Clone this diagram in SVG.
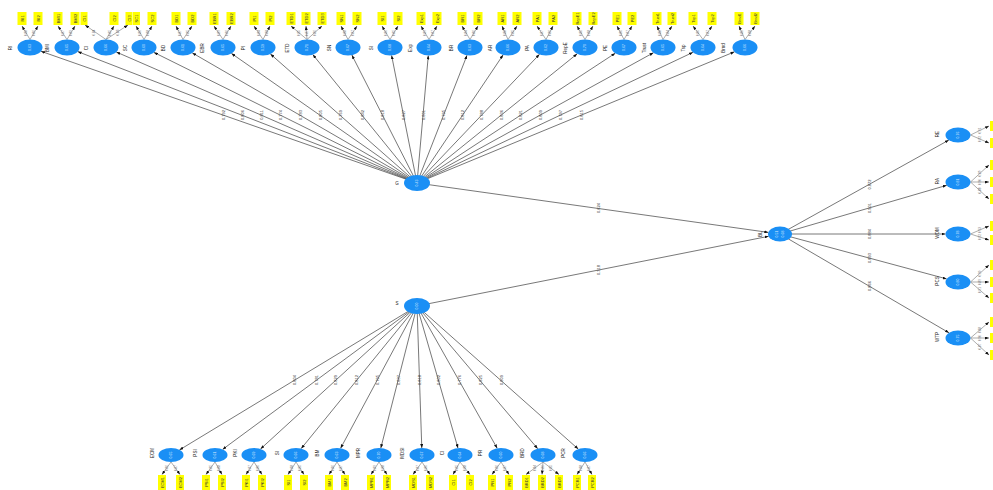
<svg xmlns="http://www.w3.org/2000/svg" width="993" height="490" viewBox="0 0 993 490">
<style>
.bg{fill:#ffffff}
.lat{fill:#1a8ff5}
.ind{fill:#ffff00}
.ln{stroke:#555;stroke-width:0.8;fill:none}
.il{stroke:#777;stroke-width:0.6;fill:none}
.t{font-family:"Liberation Sans",Arial,sans-serif;font-size:4px;fill:#333;text-anchor:middle;dominant-baseline:central}
.ts{font-family:"Liberation Sans",Arial,sans-serif;font-size:3px;fill:#666;text-anchor:middle;dominant-baseline:central}
.tw{font-family:"Liberation Sans",Arial,sans-serif;font-size:3.5px;fill:#dcecff;text-anchor:middle;dominant-baseline:central}
.tn{font-family:"Liberation Sans",Arial,sans-serif;font-size:4.5px;fill:#222;text-anchor:middle;dominant-baseline:central}
</style>
<defs>
<marker id="ah" markerUnits="userSpaceOnUse" markerWidth="4" markerHeight="3" refX="4" refY="1.5" orient="auto"><path d="M0,0 L4,1.5 L0,3 z" fill="#111"/></marker>
</defs>
<rect class="bg" x="0" y="0" width="993" height="490"/>
<g id="connectors">
<line class="ln" marker-end="url(#ah)" x1="417" y1="183" x2="41" y2="51.3"/>
<line class="ln" marker-end="url(#ah)" x1="417" y1="183" x2="77.7" y2="51.6"/>
<line class="ln" marker-end="url(#ah)" x1="417" y1="183" x2="116.3" y2="52"/>
<line class="ln" marker-end="url(#ah)" x1="417" y1="183" x2="153.9" y2="52.4"/>
<line class="ln" marker-end="url(#ah)" x1="417" y1="183" x2="192.3" y2="52.9"/>
<line class="ln" marker-end="url(#ah)" x1="417" y1="183" x2="231.4" y2="53.4"/>
<line class="ln" marker-end="url(#ah)" x1="417" y1="183" x2="270.4" y2="54"/>
<line class="ln" marker-end="url(#ah)" x1="417" y1="183" x2="312.8" y2="54.6"/>
<line class="ln" marker-end="url(#ah)" x1="417" y1="183" x2="351.9" y2="55.1"/>
<line class="ln" marker-end="url(#ah)" x1="417" y1="183" x2="391.6" y2="55.4"/>
<line class="ln" marker-end="url(#ah)" x1="417" y1="183" x2="428.3" y2="55.5"/>
<line class="ln" marker-end="url(#ah)" x1="417" y1="183" x2="467" y2="55.3"/>
<line class="ln" marker-end="url(#ah)" x1="417" y1="183" x2="503.1" y2="54.9"/>
<line class="ln" marker-end="url(#ah)" x1="417" y1="183" x2="539.5" y2="54.3"/>
<line class="ln" marker-end="url(#ah)" x1="417" y1="183" x2="577.2" y2="53.8"/>
<line class="ln" marker-end="url(#ah)" x1="417" y1="183" x2="615.3" y2="53.2"/>
<line class="ln" marker-end="url(#ah)" x1="417" y1="183" x2="653.5" y2="52.7"/>
<line class="ln" marker-end="url(#ah)" x1="417" y1="183" x2="693" y2="52.3"/>
<line class="ln" marker-end="url(#ah)" x1="417" y1="183" x2="734.5" y2="51.8"/>
<line class="ln" marker-end="url(#ah)" x1="417" y1="183" x2="768.3" y2="232.4"/>
<line class="ln" marker-end="url(#ah)" x1="417" y1="306" x2="768.6" y2="236.3"/>
<line class="ln" marker-end="url(#ah)" x1="780" y1="234" x2="948.8" y2="140.1"/>
<line class="ln" marker-end="url(#ah)" x1="780" y1="234" x2="946.8" y2="185.3"/>
<line class="ln" marker-end="url(#ah)" x1="780" y1="234" x2="945.5" y2="234"/>
<line class="ln" marker-end="url(#ah)" x1="780" y1="234" x2="946.6" y2="278.9"/>
<line class="ln" marker-end="url(#ah)" x1="780" y1="234" x2="949" y2="332.8"/>
<line class="ln" marker-end="url(#ah)" x1="417" y1="306" x2="179.5" y2="449.9"/>
<line class="ln" marker-end="url(#ah)" x1="417" y1="306" x2="222.6" y2="449.4"/>
<line class="ln" marker-end="url(#ah)" x1="417" y1="306" x2="260.5" y2="449"/>
<line class="ln" marker-end="url(#ah)" x1="417" y1="306" x2="301.2" y2="448.6"/>
<line class="ln" marker-end="url(#ah)" x1="417" y1="306" x2="340.6" y2="448.3"/>
<line class="ln" marker-end="url(#ah)" x1="417" y1="306" x2="380.8" y2="448.1"/>
<line class="ln" marker-end="url(#ah)" x1="417" y1="306" x2="421.8" y2="448"/>
<line class="ln" marker-end="url(#ah)" x1="417" y1="306" x2="458" y2="448.1"/>
<line class="ln" marker-end="url(#ah)" x1="417" y1="306" x2="497.2" y2="448.3"/>
<line class="ln" marker-end="url(#ah)" x1="417" y1="306" x2="537.7" y2="448.7"/>
<line class="ln" marker-end="url(#ah)" x1="417" y1="306" x2="578.3" y2="449.1"/>
<g class="il" marker-end="url(#ah)">
<line x1="30" y1="39.5" x2="22" y2="26"/><line x1="30" y1="39.5" x2="38" y2="26"/>
<line x1="67" y1="39.5" x2="58" y2="26"/><line x1="67" y1="39.5" x2="75" y2="26"/>
<line x1="106" y1="39.5" x2="85" y2="25"/><line x1="106" y1="39.5" x2="114" y2="26"/><line x1="106" y1="39.5" x2="128" y2="25"/>
<line x1="144" y1="39.5" x2="136" y2="26"/><line x1="144" y1="39.5" x2="152" y2="26"/>
<line x1="183" y1="39.5" x2="176" y2="26"/><line x1="183" y1="39.5" x2="192" y2="26"/>
<line x1="223" y1="39.5" x2="214" y2="26"/><line x1="223" y1="39.5" x2="231" y2="26"/>
<line x1="263" y1="39.5" x2="254" y2="26"/><line x1="263" y1="39.5" x2="270" y2="26"/>
<line x1="307" y1="39.5" x2="291" y2="26"/><line x1="307" y1="39.5" x2="306" y2="26"/><line x1="307" y1="39.5" x2="322" y2="26"/>
<line x1="348" y1="39.5" x2="341" y2="26"/><line x1="348" y1="39.5" x2="357" y2="26"/>
<line x1="390" y1="39.5" x2="382" y2="26"/><line x1="390" y1="39.5" x2="398" y2="26"/>
<line x1="429" y1="39.5" x2="421" y2="26"/><line x1="429" y1="39.5" x2="437" y2="26"/>
<line x1="470" y1="39.5" x2="462" y2="26"/><line x1="470" y1="39.5" x2="478" y2="26"/>
<line x1="508" y1="39.5" x2="502" y2="26"/><line x1="508" y1="39.5" x2="517" y2="26"/>
<line x1="546" y1="39.5" x2="537" y2="26"/><line x1="546" y1="39.5" x2="553" y2="26"/>
<line x1="585" y1="39.5" x2="577" y2="26"/><line x1="585" y1="39.5" x2="593" y2="26"/>
<line x1="624" y1="39.5" x2="617" y2="26"/><line x1="624" y1="39.5" x2="632" y2="26"/>
<line x1="663" y1="39.5" x2="657" y2="26"/><line x1="663" y1="39.5" x2="672" y2="26"/>
<line x1="703" y1="39.5" x2="693" y2="26"/><line x1="703" y1="39.5" x2="712" y2="26"/>
<line x1="745" y1="39.5" x2="739" y2="26"/><line x1="745" y1="39.5" x2="755" y2="26"/>
<line x1="970.5" y1="135" x2="989" y2="126"/><line x1="970.5" y1="135" x2="989" y2="143"/>
<line x1="970.5" y1="182" x2="989" y2="165"/><line x1="970.5" y1="182" x2="989" y2="182"/><line x1="970.5" y1="182" x2="989" y2="199"/>
<line x1="970.5" y1="234" x2="989" y2="226"/><line x1="970.5" y1="234" x2="989" y2="240"/>
<line x1="970.5" y1="282" x2="989" y2="265"/><line x1="970.5" y1="282" x2="989" y2="282"/><line x1="970.5" y1="282" x2="989" y2="298"/>
<line x1="970.5" y1="338" x2="989" y2="322"/><line x1="970.5" y1="338" x2="989" y2="338"/><line x1="970.5" y1="338" x2="989" y2="355"/>
<line x1="171" y1="462" x2="162" y2="474.5"/><line x1="171" y1="462" x2="180" y2="474.5"/>
<line x1="215" y1="462" x2="206" y2="474.5"/><line x1="215" y1="462" x2="222" y2="474.5"/>
<line x1="254" y1="462" x2="246" y2="474.5"/><line x1="254" y1="462" x2="262" y2="474.5"/>
<line x1="296" y1="462" x2="288" y2="474.5"/><line x1="296" y1="462" x2="304" y2="474.5"/>
<line x1="337" y1="462" x2="329" y2="474.5"/><line x1="337" y1="462" x2="345" y2="474.5"/>
<line x1="379" y1="462" x2="371" y2="474.5"/><line x1="379" y1="462" x2="387" y2="474.5"/>
<line x1="422" y1="462" x2="413" y2="474.5"/><line x1="422" y1="462" x2="430" y2="474.5"/>
<line x1="460" y1="462" x2="453" y2="474.5"/><line x1="460" y1="462" x2="470" y2="474.5"/>
<line x1="501" y1="462" x2="492" y2="474.5"/><line x1="501" y1="462" x2="509" y2="474.5"/>
<line x1="543" y1="462" x2="526" y2="474.5"/><line x1="543" y1="462" x2="542" y2="474.5"/><line x1="543" y1="462" x2="559" y2="474.5"/>
<line x1="585" y1="462" x2="577" y2="474.5"/><line x1="585" y1="462" x2="592" y2="474.5"/>
</g>
<g class="t">
<text transform="translate(223.5,115) rotate(-90)">0.792</text>
<text transform="translate(242,115) rotate(-90)">0.806</text>
<text transform="translate(261.5,115) rotate(-90)">0.811</text>
<text transform="translate(280.5,115) rotate(-90)">0.774</text>
<text transform="translate(300,115) rotate(-90)">0.783</text>
<text transform="translate(320,115) rotate(-90)">0.805</text>
<text transform="translate(340,115) rotate(-90)">0.769</text>
<text transform="translate(362,115) rotate(-90)">0.842</text>
<text transform="translate(382.5,115) rotate(-90)">0.818</text>
<text transform="translate(403.5,115) rotate(-90)">0.827</text>
<text transform="translate(423,115) rotate(-90)">0.801</text>
<text transform="translate(443.5,115) rotate(-90)">0.795</text>
<text transform="translate(462.5,115) rotate(-90)">0.812</text>
<text transform="translate(481.5,115) rotate(-90)">0.788</text>
<text transform="translate(501,115) rotate(-90)">0.836</text>
<text transform="translate(520.5,115) rotate(-90)">0.821</text>
<text transform="translate(540,115) rotate(-90)">0.809</text>
<text transform="translate(560,115) rotate(-90)">0.797</text>
<text transform="translate(581,115) rotate(-90)">0.815</text>
<text transform="translate(598,208) rotate(-90)">0.624</text>
<text transform="translate(598,270) rotate(-90)">0.318</text>
<text transform="translate(869,184.5) rotate(-90)">0.872</text>
<text transform="translate(869,208) rotate(-90)">0.901</text>
<text transform="translate(869,234) rotate(-90)">0.884</text>
<text transform="translate(869,258) rotate(-90)">0.893</text>
<text transform="translate(869,286) rotate(-90)">0.866</text>
<text transform="translate(294,380) rotate(-90)">0.804</text>
<text transform="translate(316,380) rotate(-90)">0.781</text>
<text transform="translate(335.5,380) rotate(-90)">0.829</text>
<text transform="translate(356.5,380) rotate(-90)">0.812</text>
<text transform="translate(377,380) rotate(-90)">0.795</text>
<text transform="translate(398,380) rotate(-90)">0.837</text>
<text transform="translate(419.5,380) rotate(-90)">0.818</text>
<text transform="translate(438.5,380) rotate(-90)">0.802</text>
<text transform="translate(459,380) rotate(-90)">0.776</text>
<text transform="translate(480,380) rotate(-90)">0.825</text>
<text transform="translate(501,380) rotate(-90)">0.809</text>
</g>
<g class="ts">
<text transform="translate(26,33) rotate(-90)">0.88</text><text transform="translate(34,33) rotate(-90)">0.86</text>
<text transform="translate(62.5,33) rotate(-90)">0.87</text><text transform="translate(71,33) rotate(-90)">0.89</text>
<text transform="translate(94,32.5) rotate(-90)">0.84</text><text transform="translate(110,33) rotate(-90)">0.85</text><text transform="translate(118,32.5) rotate(-90)">0.83</text>
<text transform="translate(140,33) rotate(-90)">0.86</text><text transform="translate(148,33) rotate(-90)">0.88</text>
<text transform="translate(179.5,33) rotate(-90)">0.87</text><text transform="translate(187.5,33) rotate(-90)">0.85</text>
<text transform="translate(218.5,33) rotate(-90)">0.89</text><text transform="translate(227,33) rotate(-90)">0.86</text>
<text transform="translate(258.5,33) rotate(-90)">0.84</text><text transform="translate(266.5,33) rotate(-90)">0.88</text>
<text transform="translate(299,33) rotate(-90)">0.85</text><text transform="translate(306.5,33) rotate(-90)">0.87</text><text transform="translate(314.5,33) rotate(-90)">0.86</text>
<text transform="translate(344.5,33) rotate(-90)">0.88</text><text transform="translate(352.5,33) rotate(-90)">0.87</text>
<text transform="translate(386,33) rotate(-90)">0.86</text><text transform="translate(394,33) rotate(-90)">0.85</text>
<text transform="translate(425,33) rotate(-90)">0.89</text><text transform="translate(433,33) rotate(-90)">0.87</text>
<text transform="translate(466,33) rotate(-90)">0.84</text><text transform="translate(474,33) rotate(-90)">0.86</text>
<text transform="translate(505,33) rotate(-90)">0.88</text><text transform="translate(512.5,33) rotate(-90)">0.85</text>
<text transform="translate(541.5,33) rotate(-90)">0.87</text><text transform="translate(549.5,33) rotate(-90)">0.86</text>
<text transform="translate(581,33) rotate(-90)">0.85</text><text transform="translate(589,33) rotate(-90)">0.88</text>
<text transform="translate(620.5,33) rotate(-90)">0.86</text><text transform="translate(628,33) rotate(-90)">0.87</text>
<text transform="translate(660,33) rotate(-90)">0.88</text><text transform="translate(667.5,33) rotate(-90)">0.84</text>
<text transform="translate(698,33) rotate(-90)">0.86</text><text transform="translate(707.5,33) rotate(-90)">0.87</text>
<text transform="translate(742,33) rotate(-90)">0.85</text><text transform="translate(750,33) rotate(-90)">0.88</text>
<text transform="translate(980,130.5) rotate(-90)">0.91</text><text transform="translate(980,139) rotate(-90)">0.92</text>
<text transform="translate(980,173.5) rotate(-90)">0.89</text><text transform="translate(980,182) rotate(-90)">0.90</text><text transform="translate(980,190.5) rotate(-90)">0.88</text>
<text transform="translate(980,230) rotate(-90)">0.93</text><text transform="translate(980,237) rotate(-90)">0.92</text>
<text transform="translate(980,273.5) rotate(-90)">0.90</text><text transform="translate(980,282) rotate(-90)">0.89</text><text transform="translate(980,290) rotate(-90)">0.91</text>
<text transform="translate(980,330) rotate(-90)">0.88</text><text transform="translate(980,338) rotate(-90)">0.90</text><text transform="translate(980,346.5) rotate(-90)">0.87</text>
<text transform="translate(166.5,468) rotate(-90)">0.86</text><text transform="translate(175.5,468) rotate(-90)">0.87</text>
<text transform="translate(210.5,468) rotate(-90)">0.85</text><text transform="translate(218.5,468) rotate(-90)">0.88</text>
<text transform="translate(250,468) rotate(-90)">0.87</text><text transform="translate(258,468) rotate(-90)">0.86</text>
<text transform="translate(292,468) rotate(-90)">0.88</text><text transform="translate(300,468) rotate(-90)">0.85</text>
<text transform="translate(333,468) rotate(-90)">0.86</text><text transform="translate(341,468) rotate(-90)">0.87</text>
<text transform="translate(375,468) rotate(-90)">0.89</text><text transform="translate(383,468) rotate(-90)">0.88</text>
<text transform="translate(417.5,468) rotate(-90)">0.87</text><text transform="translate(426,468) rotate(-90)">0.86</text>
<text transform="translate(456.5,468) rotate(-90)">0.85</text><text transform="translate(465,468) rotate(-90)">0.88</text>
<text transform="translate(496.5,468) rotate(-90)">0.86</text><text transform="translate(505,468) rotate(-90)">0.87</text>
<text transform="translate(534.5,468) rotate(-90)">0.84</text><text transform="translate(542.5,468) rotate(-90)">0.86</text><text transform="translate(551,468) rotate(-90)">0.85</text>
<text transform="translate(581,468) rotate(-90)">0.88</text><text transform="translate(588.5,468) rotate(-90)">0.87</text>
</g>
</g>
<g id="nodeA"><ellipse class="lat" cx="417" cy="183" rx="13" ry="8"/><text class="tw" transform="translate(417,183) rotate(-90)">0.43</text><text class="tn" x="397" y="183">G</text></g>
<g id="nodeC"><ellipse class="lat" cx="417" cy="306" rx="13" ry="8"/><text class="tw" transform="translate(417,306) rotate(-90)">0.00</text><text class="tn" x="397" y="303">S</text></g>
<g id="nodeB"><ellipse class="lat" cx="780" cy="234" rx="12" ry="7.5"/><text class="tw" transform="translate(777,234) rotate(-90)">0.51</text><text class="tw" transform="translate(783,234) rotate(-90)">0.68</text><text class="tn" transform="translate(760,234) rotate(-90)">BL</text></g>
<g id="top-nodes">
<g id="t1"><ellipse class="lat" cx="30" cy="47.5" rx="12.5" ry="8"/><text class="tw" transform="translate(30,47.5) rotate(-90)">0.63</text><text class="tn" transform="translate(10,48) rotate(-90)">RI</text>
<rect class="ind" x="17.5" y="12" width="9" height="13"/><rect class="ind" x="33.5" y="12" width="9" height="13"/><text class="t" transform="translate(22,18.5) rotate(-90)">RI1</text><text class="t" transform="translate(38,18.5) rotate(-90)">RI2</text></g>
<g id="t2"><ellipse class="lat" cx="67" cy="47.5" rx="12.5" ry="8"/><text class="tw" transform="translate(67,47.5) rotate(-90)">0.65</text><text class="tn" transform="translate(47,48) rotate(-90)">BMI</text>
<rect class="ind" x="53.5" y="12" width="9" height="13"/><rect class="ind" x="70.5" y="12" width="9" height="13"/><text class="t" transform="translate(58,18.5) rotate(-90)">BMI1</text><text class="t" transform="translate(75,18.5) rotate(-90)">BMI2</text></g>
<g id="t3"><ellipse class="lat" cx="106" cy="47.5" rx="12.5" ry="8"/><text class="tw" transform="translate(106,47.5) rotate(-90)">0.66</text><text class="tn" transform="translate(86,48) rotate(-90)">CI</text>
<rect class="ind" x="80.5" y="12" width="7" height="13"/><rect class="ind" x="109.5" y="12" width="9" height="13"/><rect class="ind" x="125.5" y="12" width="7" height="13"/><text class="t" transform="translate(84,18.5) rotate(-90)">CI1</text><text class="t" transform="translate(114,18.5) rotate(-90)">CI2</text><text class="t" transform="translate(129,18.5) rotate(-90)">CI3</text></g>
<g id="t4"><ellipse class="lat" cx="144" cy="47.5" rx="12.5" ry="8"/><text class="tw" transform="translate(144,47.5) rotate(-90)">0.60</text><text class="tn" transform="translate(125,48) rotate(-90)">SC</text>
<rect class="ind" x="133" y="12" width="7" height="13"/><rect class="ind" x="147.5" y="12" width="9" height="13"/><text class="t" transform="translate(136.5,18.5) rotate(-90)">SC1</text><text class="t" transform="translate(152,18.5) rotate(-90)">SC2</text></g>
<g id="t5"><ellipse class="lat" cx="183" cy="47.5" rx="12.5" ry="8"/><text class="tw" transform="translate(183,47.5) rotate(-90)">0.61</text><text class="tn" transform="translate(163,48) rotate(-90)">BD</text>
<rect class="ind" x="171.5" y="12" width="9" height="13"/><rect class="ind" x="187.5" y="12" width="9" height="13"/><text class="t" transform="translate(176,18.5) rotate(-90)">BD1</text><text class="t" transform="translate(192,18.5) rotate(-90)">BD2</text></g>
<g id="t6"><ellipse class="lat" cx="223" cy="47.5" rx="12.5" ry="8"/><text class="tw" transform="translate(223,47.5) rotate(-90)">0.65</text><text class="tn" transform="translate(202,48) rotate(-90)">EBR</text>
<rect class="ind" x="209.5" y="12" width="9" height="13"/><rect class="ind" x="226.5" y="12" width="9" height="13"/><text class="t" transform="translate(214,18.5) rotate(-90)">EBR1</text><text class="t" transform="translate(231,18.5) rotate(-90)">EBR2</text></g>
<g id="t7"><ellipse class="lat" cx="263" cy="47.5" rx="12.5" ry="8"/><text class="tw" transform="translate(263,47.5) rotate(-90)">0.59</text><text class="tn" transform="translate(243,48) rotate(-90)">PI</text>
<rect class="ind" x="249.5" y="12" width="9" height="13"/><rect class="ind" x="265.5" y="12" width="9" height="13"/><text class="t" transform="translate(254,18.5) rotate(-90)">PI1</text><text class="t" transform="translate(270,18.5) rotate(-90)">PI2</text></g>
<g id="t8"><ellipse class="lat" cx="307" cy="47.5" rx="12.5" ry="8"/><text class="tw" transform="translate(307,47.5) rotate(-90)">0.71</text><text class="tn" transform="translate(287,48) rotate(-90)">ETD</text>
<rect class="ind" x="286.5" y="12" width="9" height="13"/><rect class="ind" x="301.5" y="12" width="9" height="13"/><rect class="ind" x="317.5" y="12" width="9" height="13"/><text class="t" transform="translate(291,18.5) rotate(-90)">ETD1</text><text class="t" transform="translate(306,18.5) rotate(-90)">ETD2</text><text class="t" transform="translate(322,18.5) rotate(-90)">ETD3</text></g>
<g id="t9"><ellipse class="lat" cx="348" cy="47.5" rx="12.5" ry="8"/><text class="tw" transform="translate(348,47.5) rotate(-90)">0.67</text><text class="tn" transform="translate(329,48) rotate(-90)">SN</text>
<rect class="ind" x="336.5" y="12" width="9" height="13"/><rect class="ind" x="352.5" y="12" width="9" height="13"/><text class="t" transform="translate(341,18.5) rotate(-90)">SN1</text><text class="t" transform="translate(357,18.5) rotate(-90)">SN2</text></g>
<g id="t10"><ellipse class="lat" cx="390" cy="47.5" rx="12.5" ry="8"/><text class="tw" transform="translate(390,47.5) rotate(-90)">0.68</text><text class="tn" transform="translate(371,48) rotate(-90)">SI</text>
<rect class="ind" x="377.5" y="12" width="9" height="13"/><rect class="ind" x="393.5" y="12" width="9" height="13"/><text class="t" transform="translate(382,18.5) rotate(-90)">SI1</text><text class="t" transform="translate(398,18.5) rotate(-90)">SI2</text></g>
<g id="t11"><ellipse class="lat" cx="429" cy="47.5" rx="12.5" ry="8"/><text class="tw" transform="translate(429,47.5) rotate(-90)">0.64</text><text class="tn" transform="translate(410,48) rotate(-90)">Exp</text>
<rect class="ind" x="416.5" y="12" width="9" height="13"/><rect class="ind" x="432.5" y="12" width="9" height="13"/><text class="t" transform="translate(421,18.5) rotate(-90)">Exp1</text><text class="t" transform="translate(437,18.5) rotate(-90)">Exp2</text></g>
<g id="t12"><ellipse class="lat" cx="470" cy="47.5" rx="12.5" ry="8"/><text class="tw" transform="translate(470,47.5) rotate(-90)">0.63</text><text class="tn" transform="translate(451,48) rotate(-90)">BR</text>
<rect class="ind" x="457.5" y="12" width="9" height="13"/><rect class="ind" x="473.5" y="12" width="9" height="13"/><text class="t" transform="translate(462,18.5) rotate(-90)">BR1</text><text class="t" transform="translate(478,18.5) rotate(-90)">BR2</text></g>
<g id="t13"><ellipse class="lat" cx="508" cy="47.5" rx="12.5" ry="8"/><text class="tw" transform="translate(508,47.5) rotate(-90)">0.66</text><text class="tn" transform="translate(490,48) rotate(-90)">AR</text>
<rect class="ind" x="497.5" y="12" width="9" height="13"/><rect class="ind" x="512.5" y="12" width="9" height="13"/><text class="t" transform="translate(502,18.5) rotate(-90)">AR1</text><text class="t" transform="translate(517,18.5) rotate(-90)">AR2</text></g>
<g id="t14"><ellipse class="lat" cx="546" cy="47.5" rx="12.5" ry="8"/><text class="tw" transform="translate(546,47.5) rotate(-90)">0.62</text><text class="tn" transform="translate(527,48) rotate(-90)">PA</text>
<rect class="ind" x="532.5" y="12" width="9" height="13"/><rect class="ind" x="548.5" y="12" width="9" height="13"/><text class="t" transform="translate(537,18.5) rotate(-90)">PA1</text><text class="t" transform="translate(553,18.5) rotate(-90)">PA2</text></g>
<g id="t15"><ellipse class="lat" cx="585" cy="47.5" rx="12.5" ry="8"/><text class="tw" transform="translate(585,47.5) rotate(-90)">0.70</text><text class="tn" transform="translate(565,48) rotate(-90)">RepE</text>
<rect class="ind" x="572.5" y="12" width="9" height="13"/><rect class="ind" x="588.5" y="12" width="9" height="13"/><text class="t" transform="translate(577,18.5) rotate(-90)">RepE1</text><text class="t" transform="translate(593,18.5) rotate(-90)">RepE2</text></g>
<g id="t16"><ellipse class="lat" cx="624" cy="47.5" rx="12.5" ry="8"/><text class="tw" transform="translate(624,47.5) rotate(-90)">0.67</text><text class="tn" transform="translate(605,48) rotate(-90)">PE</text>
<rect class="ind" x="612.5" y="12" width="9" height="13"/><rect class="ind" x="627.5" y="12" width="9" height="13"/><text class="t" transform="translate(617,18.5) rotate(-90)">PE1</text><text class="t" transform="translate(632,18.5) rotate(-90)">PE2</text></g>
<g id="t17"><ellipse class="lat" cx="663" cy="47.5" rx="12.5" ry="8"/><text class="tw" transform="translate(663,47.5) rotate(-90)">0.65</text><text class="tn" transform="translate(644,48) rotate(-90)">Trust</text>
<rect class="ind" x="652.5" y="12" width="9" height="13"/><rect class="ind" x="667.5" y="12" width="9" height="13"/><text class="t" transform="translate(657,18.5) rotate(-90)">Trust1</text><text class="t" transform="translate(672,18.5) rotate(-90)">Trust2</text></g>
<g id="t18"><ellipse class="lat" cx="703" cy="47.5" rx="12.5" ry="8"/><text class="tw" transform="translate(703,47.5) rotate(-90)">0.64</text><text class="tn" transform="translate(683,48) rotate(-90)">Tsp</text>
<rect class="ind" x="688.5" y="12" width="9" height="13"/><rect class="ind" x="707.5" y="12" width="9" height="13"/><text class="t" transform="translate(693,18.5) rotate(-90)">Tsp1</text><text class="t" transform="translate(712,18.5) rotate(-90)">Tsp2</text></g>
<g id="t19"><ellipse class="lat" cx="745" cy="47.5" rx="12.5" ry="8"/><text class="tw" transform="translate(745,47.5) rotate(-90)">0.66</text><text class="tn" transform="translate(723,48) rotate(-90)">Brnd</text>
<rect class="ind" x="734.5" y="12" width="9" height="13"/><rect class="ind" x="750.5" y="12" width="9" height="13"/><text class="t" transform="translate(739,18.5) rotate(-90)">Brnd1</text><text class="t" transform="translate(755,18.5) rotate(-90)">Brnd2</text></g>
</g>
<g id="right-nodes">
<g id="r1"><ellipse class="lat" cx="958" cy="135" rx="12.5" ry="7.5"/><text class="tw" transform="translate(958,135) rotate(-90)">0.76</text><text class="tn" transform="translate(937,134) rotate(-90)">RE</text>
<rect class="ind" x="990" y="121" width="10" height="10"/><rect class="ind" x="990" y="138" width="10" height="10"/></g>
<g id="r2"><ellipse class="lat" cx="958" cy="182" rx="12.5" ry="7.5"/><text class="tw" transform="translate(958,182) rotate(-90)">0.81</text><text class="tn" transform="translate(937,181) rotate(-90)">RA</text>
<rect class="ind" x="990" y="160" width="10" height="10"/><rect class="ind" x="990" y="177" width="10" height="10"/><rect class="ind" x="990" y="194" width="10" height="10"/></g>
<g id="r3"><ellipse class="lat" cx="958" cy="234" rx="12.5" ry="7.5"/><text class="tw" transform="translate(958,234) rotate(-90)">0.78</text><text class="tn" transform="translate(937,233) rotate(-90)">WOM</text>
<rect class="ind" x="990" y="221" width="10" height="10"/><rect class="ind" x="990" y="235" width="10" height="10"/></g>
<g id="r4"><ellipse class="lat" cx="958" cy="282" rx="12.5" ry="7.5"/><text class="tw" transform="translate(958,282) rotate(-90)">0.80</text><text class="tn" transform="translate(937,281) rotate(-90)">PCS</text>
<rect class="ind" x="990" y="260" width="10" height="10"/><rect class="ind" x="990" y="277" width="10" height="10"/><rect class="ind" x="990" y="293" width="10" height="10"/></g>
<g id="r5"><ellipse class="lat" cx="958" cy="338" rx="12.5" ry="7.5"/><text class="tw" transform="translate(958,338) rotate(-90)">0.75</text><text class="tn" transform="translate(937,337) rotate(-90)">WTP</text>
<rect class="ind" x="990" y="317" width="10" height="10"/><rect class="ind" x="990" y="333" width="10" height="10"/><rect class="ind" x="990" y="350" width="10" height="10"/></g>
</g>
<g id="bottom-nodes">
<g id="b1"><ellipse class="lat" cx="171" cy="455" rx="12.5" ry="7"/><text class="tw" transform="translate(171,455) rotate(-90)">0.65</text><text class="tn" transform="translate(152,453) rotate(-90)">ECM</text>
<rect class="ind" x="158" y="475" width="8" height="15"/><rect class="ind" x="176" y="475" width="8" height="15"/><text class="t" transform="translate(162,482.5) rotate(-90)">ECM1</text><text class="t" transform="translate(180,482.5) rotate(-90)">ECM2</text></g>
<g id="b2"><ellipse class="lat" cx="215" cy="455" rx="12.5" ry="7"/><text class="tw" transform="translate(215,455) rotate(-90)">0.61</text><text class="tn" transform="translate(195,453) rotate(-90)">PSI</text>
<rect class="ind" x="202" y="475" width="8" height="15"/><rect class="ind" x="218" y="475" width="8" height="15"/><text class="t" transform="translate(206,482.5) rotate(-90)">PSI1</text><text class="t" transform="translate(222,482.5) rotate(-90)">PSI2</text></g>
<g id="b3"><ellipse class="lat" cx="254" cy="455" rx="12.5" ry="7"/><text class="tw" transform="translate(254,455) rotate(-90)">0.69</text><text class="tn" transform="translate(235,453) rotate(-90)">PKI</text>
<rect class="ind" x="242" y="475" width="8" height="15"/><rect class="ind" x="258" y="475" width="8" height="15"/><text class="t" transform="translate(246,482.5) rotate(-90)">PKI1</text><text class="t" transform="translate(262,482.5) rotate(-90)">PKI2</text></g>
<g id="b4"><ellipse class="lat" cx="296" cy="455" rx="12.5" ry="7"/><text class="tw" transform="translate(296,455) rotate(-90)">0.66</text><text class="tn" transform="translate(277,453) rotate(-90)">SI</text>
<rect class="ind" x="284" y="475" width="8" height="15"/><rect class="ind" x="300" y="475" width="8" height="15"/><text class="t" transform="translate(288,482.5) rotate(-90)">SI1</text><text class="t" transform="translate(304,482.5) rotate(-90)">SI2</text></g>
<g id="b5"><ellipse class="lat" cx="337" cy="455" rx="12.5" ry="7"/><text class="tw" transform="translate(337,455) rotate(-90)">0.63</text><text class="tn" transform="translate(317,453) rotate(-90)">BM</text>
<rect class="ind" x="325" y="475" width="8" height="15"/><rect class="ind" x="341" y="475" width="8" height="15"/><text class="t" transform="translate(329,482.5) rotate(-90)">BM1</text><text class="t" transform="translate(345,482.5) rotate(-90)">BM2</text></g>
<g id="b6"><ellipse class="lat" cx="379" cy="455" rx="12.5" ry="7"/><text class="tw" transform="translate(379,455) rotate(-90)">0.70</text><text class="tn" transform="translate(358,453) rotate(-90)">MPR</text>
<rect class="ind" x="367" y="475" width="8" height="15"/><rect class="ind" x="383" y="475" width="8" height="15"/><text class="t" transform="translate(371,482.5) rotate(-90)">MPR1</text><text class="t" transform="translate(387,482.5) rotate(-90)">MPR2</text></g>
<g id="b7"><ellipse class="lat" cx="422" cy="455" rx="12.5" ry="7"/><text class="tw" transform="translate(422,455) rotate(-90)">0.67</text><text class="tn" transform="translate(402,453) rotate(-90)">MDSI</text>
<rect class="ind" x="409" y="475" width="8" height="15"/><rect class="ind" x="426" y="475" width="8" height="15"/><text class="t" transform="translate(413,482.5) rotate(-90)">MDS1</text><text class="t" transform="translate(430,482.5) rotate(-90)">MDS2</text></g>
<g id="b8"><ellipse class="lat" cx="460" cy="455" rx="12.5" ry="7"/><text class="tw" transform="translate(460,455) rotate(-90)">0.64</text><text class="tn" transform="translate(442,453) rotate(-90)">CI</text>
<rect class="ind" x="449" y="475" width="8" height="15"/><rect class="ind" x="466" y="475" width="8" height="15"/><text class="t" transform="translate(453,482.5) rotate(-90)">CI1</text><text class="t" transform="translate(470,482.5) rotate(-90)">CI2</text></g>
<g id="b9"><ellipse class="lat" cx="501" cy="455" rx="12.5" ry="7"/><text class="tw" transform="translate(501,455) rotate(-90)">0.60</text><text class="tn" transform="translate(480,453) rotate(-90)">PR</text>
<rect class="ind" x="488" y="475" width="8" height="15"/><rect class="ind" x="505" y="475" width="8" height="15"/><text class="t" transform="translate(492,482.5) rotate(-90)">PR1</text><text class="t" transform="translate(509,482.5) rotate(-90)">PR2</text></g>
<g id="b10"><ellipse class="lat" cx="543" cy="455" rx="12.5" ry="7"/><text class="tw" transform="translate(543,455) rotate(-90)">0.68</text><text class="tn" transform="translate(522,453) rotate(-90)">BRD</text>
<rect class="ind" x="522" y="475" width="8" height="15"/><rect class="ind" x="538" y="475" width="8" height="15"/><rect class="ind" x="555" y="475" width="8" height="15"/><text class="t" transform="translate(526,482.5) rotate(-90)">BRD1</text><text class="t" transform="translate(542,482.5) rotate(-90)">BRD2</text><text class="t" transform="translate(559,482.5) rotate(-90)">BRD3</text></g>
<g id="b11"><ellipse class="lat" cx="585" cy="455" rx="12.5" ry="7"/><text class="tw" transform="translate(585,455) rotate(-90)">0.66</text><text class="tn" transform="translate(563,453) rotate(-90)">PCR</text>
<rect class="ind" x="573" y="475" width="8" height="15"/><rect class="ind" x="588" y="475" width="8" height="15"/><text class="t" transform="translate(577,482.5) rotate(-90)">PCR1</text><text class="t" transform="translate(592,482.5) rotate(-90)">PCR2</text></g>
</g>
</svg>
